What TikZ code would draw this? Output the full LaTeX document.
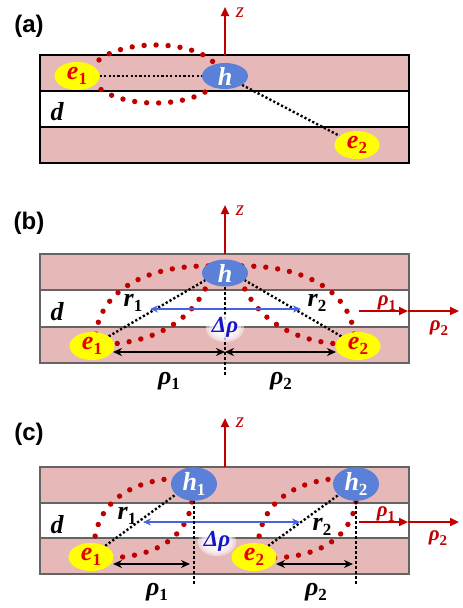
\documentclass[tikz,border=0pt]{standalone}
\usepackage{fontspec}
\newfontfamily\tms{Liberation Serif}
\newfontfamily\ars{Liberation Sans}
\usetikzlibrary{arrows.meta,shapes.geometric}
\definecolor{pinkfill}{RGB}{230,185,184}
\definecolor{dred}{RGB}{192,0,0}
\definecolor{ered}{RGB}{235,0,0}
\definecolor{hblue}{RGB}{90,128,215}
\definecolor{ablue}{RGB}{70,100,225}
\definecolor{tblue}{RGB}{20,20,200}
\definecolor{framegray}{RGB}{100,100,100}
\definecolor{eyellow}{RGB}{255,255,0}
\pgfdeclarelayer{bg}
\pgfsetlayers{bg,main}
\newcommand\lsb[1]{\raisebox{-0.22em}{\upshape\fontsize{17}{17}\selectfont #1}}
\newcommand\rsb[1]{\raisebox{-0.22em}{\upshape\fontsize{15}{15}\selectfont #1}}
\begin{document}
\begin{tikzpicture}[x=1pt,y=-1pt,
  layerA/.style={draw=black,line width=1.2pt},
  layerB/.style={draw=framegray,line width=1.2pt},
  eell/.style={ellipse,fill=eyellow,minimum width=45pt,minimum height=28pt,inner sep=0pt,
    text=ered,font=\tms\bfseries\itshape\fontsize{26}{26}\selectfont},
  hell/.style={ellipse,fill=hblue,minimum width=46pt,minimum height=26pt,inner sep=0pt,
    text=white,font=\tms\bfseries\itshape\fontsize{26}{26}\selectfont},
  reddots/.style={draw=dred,line width=5.4pt,line cap=round,dash pattern=on 0pt off 12pt},
  bdots/.style={draw=black,line width=2.4pt,dash pattern=on 2.2pt off 2.2pt},
  vdots/.style={draw=black,line width=2.6pt,dash pattern=on 2.8pt off 2.2pt},
  zaxis/.style={draw=dred,line width=2.2pt,-{Triangle[length=9pt,width=8pt]}},
  redarr/.style={draw=dred,line width=2.2pt,-{Triangle[length=9pt,width=8pt]}},
  blkarr/.style={draw=black,line width=2.6pt,{Stealth[length=9pt,width=8pt]}-{Stealth[length=9pt,width=8pt]}},
  bluarr/.style={draw=ablue,line width=1.8pt,{Stealth[length=8pt,width=7pt]}-{Stealth[length=8pt,width=7pt]}},
  plab/.style={font=\ars\bfseries\fontsize{24}{24}\selectfont,inner sep=0pt},
  mlab/.style={font=\tms\bfseries\itshape\fontsize{26}{26}\selectfont,inner sep=0pt},
  rlab/.style={font=\tms\bfseries\itshape\fontsize{21}{21}\selectfont,inner sep=0pt,text=dred},
  zlab/.style={font=\tms\itshape\fontsize{21}{21}\selectfont,inner sep=0pt,text=dred},
  dlab/.style={font=\tms\bfseries\itshape\fontsize{23}{23}\selectfont,inner sep=0pt,text=tblue},
]
\useasboundingbox (0,0) rectangle (463,608);

% ================= (a) =================
\begin{pgfonlayer}{bg}
\draw[layerA,fill=pinkfill] (40,55) rectangle (409,91);
\draw[layerA,fill=white] (40,91) rectangle (409,127);
\draw[layerA,fill=pinkfill] (40,127) rectangle (409,163);
\draw[reddots] (155,74) ellipse [x radius=64, y radius=29];
\end{pgfonlayer}
\node[eell] (a_e1) at (77,76) {e\lsb{1}};
\node[hell] (a_h) at (225,76) {h};
\node[eell] (a_e2) at (357,145) {e\lsb{2}};
\begin{pgfonlayer}{bg}
\draw[bdots] (a_e1) -- (a_h);
\draw[bdots] (a_h) -- (a_e2);
\end{pgfonlayer}
\coordinate (a_z0) at (225,55);
\coordinate (a_z1) at (225,7);
\draw[zaxis] (a_z0) -- (a_z1);
\node[zlab] (a_zl) at (240,13) {z};
\node[plab] (a_lab) at (29,26) {(a)};
\node[mlab] (a_d) at (57,112) {d};

% ================= (b) =================
\begin{pgfonlayer}{bg}
\draw[layerB,fill=pinkfill] (40,254) rectangle (409,290);
\draw[layerB,fill=white] (40,290) rectangle (409,327);
\draw[layerB,fill=pinkfill] (40,327) rectangle (409,363);
\draw[reddots] (96,334) .. controls (100,295) and (140,264) .. (215,266);
\draw[reddots] (210,278) .. controls (195,318) and (160,340) .. (112,344);
\draw[reddots] (354,334) .. controls (350,295) and (310,264) .. (235,266);
\draw[reddots] (240,278) .. controls (255,318) and (290,340) .. (338,344);
\end{pgfonlayer}
\node[hell,minimum height=27pt] (b_h) at (225,273) {h};
\node[eell] (b_e1) at (92,346) {e\lsb{1}};
\node[eell] (b_e2) at (358,346) {e\lsb{2}};
\coordinate (b_bl) at (150,309);
\coordinate (b_br) at (301,309);
\coordinate (b_v) at (225,376);
\begin{pgfonlayer}{bg}
\draw[bdots] (b_e1.30) -- (b_h.200);
\draw[bdots] (b_e2.150) -- (b_h.340);
\draw[bluarr] (b_bl) -- (b_br);
\draw[vdots] (b_h.south) -- (b_v);
\end{pgfonlayer}
\coordinate (b_p0) at (113,352);
\coordinate (b_m) at (225,352);
\coordinate (b_p1) at (336,352);
\draw[blkarr] (b_p0) -- (b_m);
\draw[blkarr] (b_m) -- (b_p1);
\foreach \s in {1.0,0.85,0.7,0.55,0.4}
  \fill[white,opacity=0.45] (225,328) ellipse [x radius={19*\s}, y radius={14*\s}];
\node[dlab] (b_dr) at (225,327) {Δρ};
\coordinate (b_r0) at (359,311);
\coordinate (b_r1) at (408,311);
\coordinate (b_r2) at (459,311);
\draw[redarr] (b_r0) -- (b_r1);
\draw[redarr] (b_r1) -- (b_r2);
\node[rlab] (b_rho1r) at (387,303) {ρ\rsb{1}};
\node[rlab] (b_rho2r) at (439,328) {ρ\rsb{2}};
\coordinate (b_z0) at (225,254);
\coordinate (b_z1) at (225,205);
\draw[zaxis] (b_z0) -- (b_z1);
\node[zlab] (b_zl) at (240,211) {z};
\node[plab] (b_lab) at (29,223) {(b)};
\node[mlab] (b_d) at (57,312) {d};
\node[mlab] (b_r1l) at (133,303) {r\lsb{1}};
\node[mlab] (b_r2l) at (317,303) {r\lsb{2}};
\node[mlab] (b_rho1) at (169,381) {ρ\lsb{1}};
\node[mlab] (b_rho2) at (281,381) {ρ\lsb{2}};

% ================= (c) =================
\begin{pgfonlayer}{bg}
\draw[layerB,fill=pinkfill] (40,467) rectangle (409,503);
\draw[layerB,fill=white] (40,503) rectangle (409,538);
\draw[layerB,fill=pinkfill] (40,538) rectangle (409,574);
\draw[reddots] (94,548) .. controls (95,500) and (135,478) .. (185,478);
\draw[reddots] (193,490) .. controls (192,535) and (160,556) .. (110,558);
\draw[reddots] (258,548) .. controls (259,500) and (299,478) .. (349,478);
\draw[reddots] (357,490) .. controls (356,535) and (324,556) .. (274,558);
\end{pgfonlayer}
\node[hell,minimum height=25pt] (c_h1) at (194,484) {h\lsb{1}};
\node[hell,minimum height=25pt] (c_h2) at (356,484) {h\lsb{2}};
\node[eell] (c_e1) at (91,557) {e\lsb{1}};
\node[eell] (c_e2) at (254,557) {e\lsb{2}};
\coordinate (c_bl) at (143,522);
\coordinate (c_br) at (300,522);
\coordinate (c_v1) at (194,586);
\coordinate (c_v2) at (356,586);
\begin{pgfonlayer}{bg}
\draw[bdots] (c_e1.38) -- (c_h1.210);
\draw[bdots] (c_e2.38) -- (c_h2.212);
\draw[bluarr] (c_bl) -- (c_br);
\draw[vdots] (c_h1.south) -- (c_v1);
\draw[vdots] (c_h2.south) -- (c_v2);
\end{pgfonlayer}
\coordinate (c_p0) at (113,564);
\coordinate (c_p1) at (190,564);
\coordinate (c_q0) at (276,564);
\coordinate (c_q1) at (353,564);
\draw[blkarr] (c_p0) -- (c_p1);
\draw[blkarr] (c_q0) -- (c_q1);
\foreach \s in {1.0,0.85,0.7,0.55,0.4}
  \fill[white,opacity=0.45] (217,542) ellipse [x radius={19*\s}, y radius={14*\s}];
\node[dlab] (c_dr) at (217,541) {Δρ};
\coordinate (c_r0) at (359,522);
\coordinate (c_r1) at (408,522);
\coordinate (c_r2) at (459,522);
\draw[redarr] (c_r0) -- (c_r1);
\draw[redarr] (c_r1) -- (c_r2);
\node[rlab] (c_rho1r) at (386,514) {ρ\rsb{1}};
\node[rlab] (c_rho2r) at (438,538) {ρ\rsb{2}};
\coordinate (c_z0) at (225,467);
\coordinate (c_z1) at (225,418);
\draw[zaxis] (c_z0) -- (c_z1);
\node[zlab] (c_zl) at (240,423) {z};
\node[plab] (c_lab) at (29,434) {(c)};
\node[mlab] (c_d) at (57,525) {d};
\node[mlab] (c_r1l) at (127,516) {r\lsb{1}};
\node[mlab] (c_r2l) at (322,527) {r\lsb{2}};
\node[mlab] (c_rho1) at (157,592) {ρ\lsb{1}};
\node[mlab] (c_rho2) at (316,592) {ρ\lsb{2}};
\end{tikzpicture}
\end{document}
